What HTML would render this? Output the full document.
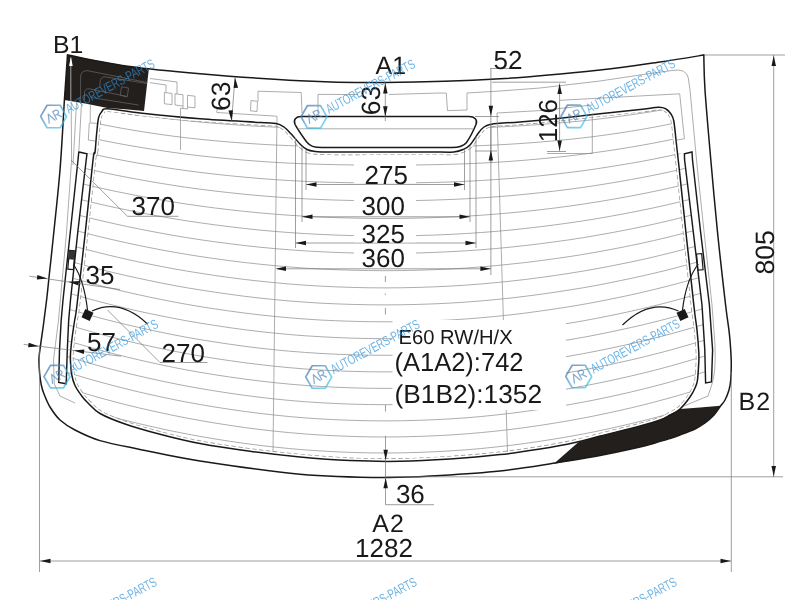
<!DOCTYPE html>
<html><head><meta charset="utf-8"><title>E60 RW/H/X</title>
<style>html,body{margin:0;padding:0;background:#fff;overflow:hidden}svg{display:block}text{font-family:"Liberation Sans",sans-serif;fill:#1b1918}</style>
</head><body>
<svg width="800" height="600" viewBox="0 0 800 600" style="opacity:0.999;will-change:transform" text-rendering="geometricPrecision">
<rect width="800" height="600" fill="#fff"/>
<defs><linearGradient id="hg" gradientUnits="userSpaceOnUse" x1="-3.7" y1="-12.5" x2="3.7" y2="12.5"><stop offset="0" stop-color="#3f6ea6"/><stop offset="0.55" stop-color="#3fa8dc"/><stop offset="1" stop-color="#35c0ec"/></linearGradient><clipPath id="ic"><path d="M95.0 152.5C95.6 148.3 95.9 140.8 96.5 135.0C97.1 129.2 97.7 121.8 98.5 118.0C99.3 114.2 100.0 113.5 101.5 112.0C103.0 110.5 101.1 108.6 107.5 108.8C113.9 108.9 124.6 111.3 140.0 113.0C155.4 114.7 180.0 117.2 200.0 118.8C220.0 120.3 247.3 121.7 260.0 122.5C272.7 123.3 272.0 122.8 276.0 123.5C280.0 124.2 281.5 125.3 284.0 127.0C286.5 128.7 288.2 130.8 291.0 133.8C293.8 136.8 298.3 142.4 301.0 145.0C303.7 147.6 304.8 148.4 307.0 149.5C309.2 150.6 310.2 150.9 314.0 151.3C317.8 151.7 318.2 151.9 330.0 152.0C341.8 152.1 366.7 152.0 385.0 152.0C403.3 152.0 428.5 152.0 440.0 152.0C451.5 152.0 449.9 152.4 453.8 152.0C457.6 151.6 460.3 150.7 463.0 149.5C465.7 148.3 467.4 147.8 470.0 145.0C472.6 142.2 476.4 135.5 478.8 132.5C481.1 129.5 482.1 128.3 484.0 127.0C485.9 125.7 487.3 125.0 490.0 124.4C492.7 123.8 495.0 123.6 500.0 123.2C505.0 122.8 510.0 122.7 520.0 121.9C530.0 121.1 546.7 119.6 560.0 118.2C573.3 116.8 586.7 115.2 600.0 113.8C613.3 112.3 630.2 110.6 640.0 109.5C649.8 108.4 654.4 107.3 658.8 107.2C663.1 107.1 664.0 107.9 666.0 109.0C668.0 110.1 669.7 112.0 671.0 114.0C672.3 116.0 672.9 116.7 673.8 121.0C674.6 125.3 675.2 132.7 676.0 140.0C676.8 147.3 677.0 149.2 678.8 165.0C680.5 180.8 683.8 211.7 686.2 235.0C688.8 258.3 692.0 289.2 693.8 305.0C695.5 320.8 696.2 322.1 697.0 330.0C697.8 337.9 698.5 347.2 698.8 352.5C699.0 357.8 699.0 357.4 698.8 362.0C698.5 366.6 698.1 375.7 697.5 380.0C696.9 384.3 696.2 385.2 695.0 388.0C693.8 390.8 692.5 393.5 690.0 397.0C687.5 400.5 683.3 406.0 680.0 409.0C676.7 412.0 673.3 413.2 670.0 415.0C666.7 416.8 665.0 418.2 660.0 420.0C655.0 421.8 650.0 423.3 640.0 426.0C630.0 428.7 610.8 433.2 600.0 436.0C589.2 438.8 585.0 440.3 575.0 442.5C565.0 444.7 552.5 447.0 540.0 449.0C527.5 451.0 515.0 452.9 500.0 454.6C485.0 456.3 466.7 457.9 450.0 459.0C433.3 460.1 416.7 461.0 400.0 461.3C383.3 461.6 366.7 461.3 350.0 460.6C333.3 459.9 316.7 458.6 300.0 457.0C283.3 455.4 266.7 453.5 250.0 451.3C233.3 449.1 215.0 446.4 200.0 443.6C185.0 440.8 172.5 437.6 160.0 434.3C147.5 431.0 135.0 427.5 125.0 424.0C115.0 420.5 106.2 417.0 100.0 413.5C93.8 410.0 90.9 405.8 88.0 403.0C85.1 400.2 84.7 399.9 82.5 397.0C80.3 394.1 76.8 389.2 75.0 385.5C73.2 381.8 72.5 378.9 71.8 375.0C71.0 371.1 70.7 365.8 70.5 362.0C70.3 358.2 70.3 356.2 70.6 352.0C70.9 347.8 71.5 342.3 72.2 337.0C72.9 331.7 73.9 325.3 74.7 320.0C75.5 314.7 75.3 319.2 77.0 305.0C78.7 290.8 82.3 259.2 85.0 235.0C87.7 210.8 91.3 173.8 93.0 160.0C94.7 146.2 94.4 156.7 95.0 152.5Z"/></clipPath><clipPath id="hc"><path d="M95.0 152.5C95.6 148.3 95.9 140.8 96.5 135.0C97.1 129.2 97.7 121.8 98.5 118.0C99.3 114.2 100.0 113.5 101.5 112.0C103.0 110.5 101.1 108.6 107.5 108.8C113.9 108.9 124.6 111.3 140.0 113.0C155.4 114.7 180.0 117.2 200.0 118.8C220.0 120.3 247.3 121.7 260.0 122.5C272.7 123.3 272.0 122.8 276.0 123.5C280.0 124.2 281.5 125.3 284.0 127.0C286.5 128.7 288.2 130.8 291.0 133.8C293.8 136.8 298.3 142.4 301.0 145.0C303.7 147.6 304.8 148.4 307.0 149.5C309.2 150.6 310.2 150.9 314.0 151.3C317.8 151.7 318.2 151.9 330.0 152.0C341.8 152.1 366.7 152.0 385.0 152.0C403.3 152.0 428.5 152.0 440.0 152.0C451.5 152.0 449.9 152.4 453.8 152.0C457.6 151.6 460.3 150.7 463.0 149.5C465.7 148.3 467.4 147.8 470.0 145.0C472.6 142.2 476.4 135.5 478.8 132.5C481.1 129.5 482.1 128.3 484.0 127.0C485.9 125.7 487.3 125.0 490.0 124.4C492.7 123.8 495.0 123.6 500.0 123.2C505.0 122.8 510.0 122.7 520.0 121.9C530.0 121.1 546.7 119.6 560.0 118.2C573.3 116.8 586.7 115.2 600.0 113.8C613.3 112.3 630.2 110.6 640.0 109.5C649.8 108.4 654.4 107.3 658.8 107.2C663.1 107.1 664.0 107.9 666.0 109.0C668.0 110.1 669.7 112.0 671.0 114.0C672.3 116.0 672.9 116.7 673.8 121.0C674.6 125.3 675.2 132.7 676.0 140.0C676.8 147.3 677.0 149.2 678.8 165.0C680.5 180.8 683.8 211.7 686.2 235.0C688.8 258.3 692.0 289.2 693.8 305.0C695.5 320.8 696.2 322.1 697.0 330.0C697.8 337.9 698.5 347.2 698.8 352.5C699.0 357.8 699.0 357.4 698.8 362.0C698.5 366.6 698.1 375.7 697.5 380.0C696.9 384.3 696.2 385.2 695.0 388.0C693.8 390.8 692.5 393.5 690.0 397.0C687.5 400.5 683.3 406.0 680.0 409.0C676.7 412.0 673.3 413.2 670.0 415.0C666.7 416.8 665.0 418.2 660.0 420.0C655.0 421.8 650.0 423.3 640.0 426.0C630.0 428.7 610.8 433.2 600.0 436.0C589.2 438.8 585.0 440.3 575.0 442.5C565.0 444.7 552.5 447.0 540.0 449.0C527.5 451.0 515.0 452.9 500.0 454.6C485.0 456.3 466.7 457.9 450.0 459.0C433.3 460.1 416.7 461.0 400.0 461.3C383.3 461.6 366.7 461.3 350.0 460.6C333.3 459.9 316.7 458.6 300.0 457.0C283.3 455.4 266.7 453.5 250.0 451.3C233.3 449.1 215.0 446.4 200.0 443.6C185.0 440.8 172.5 437.6 160.0 434.3C147.5 431.0 135.0 427.5 125.0 424.0C115.0 420.5 106.2 417.0 100.0 413.5C93.8 410.0 90.9 405.8 88.0 403.0C85.1 400.2 84.7 399.9 82.5 397.0C80.3 394.1 76.8 389.2 75.0 385.5C73.2 381.8 72.5 378.9 71.8 375.0C71.0 371.1 70.7 365.8 70.5 362.0C70.3 358.2 70.3 356.2 70.6 352.0C70.9 347.8 71.5 342.3 72.2 337.0C72.9 331.7 73.9 325.3 74.7 320.0C75.5 314.7 75.3 319.2 77.0 305.0C78.7 290.8 82.3 259.2 85.0 235.0C87.7 210.8 91.3 173.8 93.0 160.0C94.7 146.2 94.4 156.7 95.0 152.5Z"/><path d="M87.0 153.8L86.2 160.0L77.8 232.0L70.5 300.0L68.7 320.0L67.3 350.0L66.2 383.8L110.0 384.0L110.0 153.0Z"/><path d="M684.4 153.8L684.6 160.0L693.3 232.0L702.0 305.0L704.8 350.0L705.6 383.0L660.0 383.0L660.0 153.0Z"/></clipPath></defs>
<g clip-path="url(#hc)" stroke="#8a8a8a" stroke-width="0.7" fill="none">
<path d="M60.0 100.5C67.5 102.0 90.0 106.8 105.0 109.4C120.0 112.0 134.2 114.2 150.0 116.3C165.8 118.5 181.7 120.4 200.0 122.0C218.3 123.7 240.0 125.3 260.0 126.4C280.0 127.5 299.2 128.1 320.0 128.5C340.8 128.9 363.3 129.0 385.0 129.0C406.7 129.0 429.2 128.9 450.0 128.5C470.8 128.1 490.0 127.5 510.0 126.4C530.0 125.3 551.7 123.7 570.0 122.0C588.3 120.4 604.2 118.5 620.0 116.3C635.8 114.2 649.7 112.1 665.0 109.4C680.3 106.7 704.2 101.6 712.0 100.1"/>
<path d="M60.0 115.1C67.5 116.8 90.0 122.1 105.0 125.1C120.0 128.0 134.2 130.5 150.0 132.9C165.8 135.3 181.7 137.4 200.0 139.3C218.3 141.2 240.0 143.0 260.0 144.2C280.0 145.4 299.2 146.1 320.0 146.6C340.8 147.0 363.3 147.1 385.0 147.1C406.7 147.1 429.2 147.0 450.0 146.6C470.8 146.1 490.0 145.4 510.0 144.2C530.0 143.0 551.7 141.2 570.0 139.3C588.3 137.4 604.2 135.3 620.0 132.9C635.8 130.5 649.7 128.1 665.0 125.1C680.3 122.0 704.2 116.4 712.0 114.6"/>
<path d="M60.0 130.9C67.5 132.6 90.0 137.9 105.0 140.9C120.0 143.9 134.2 146.4 150.0 148.9C165.8 151.4 181.7 153.7 200.0 155.8C218.3 157.9 240.0 159.9 260.0 161.4C280.0 162.8 299.2 163.7 320.0 164.3C340.8 164.9 363.3 165.1 385.0 165.1C406.7 165.1 429.2 164.9 450.0 164.3C470.8 163.7 490.0 162.8 510.0 161.4C530.0 159.9 551.7 157.9 570.0 155.8C588.3 153.7 604.2 151.4 620.0 148.9C635.8 146.4 649.7 143.9 665.0 140.9C680.3 137.8 704.2 132.2 712.0 130.4"/>
<path d="M60.0 146.7C67.5 148.4 90.0 153.7 105.0 156.8C120.0 159.9 134.2 162.5 150.0 165.1C165.8 167.7 181.7 170.2 200.0 172.4C218.3 174.7 240.0 176.9 260.0 178.5C280.0 180.1 299.2 181.2 320.0 182.0C340.8 182.7 363.3 183.0 385.0 183.0C406.7 183.0 429.2 182.7 450.0 182.0C470.8 181.2 490.0 180.1 510.0 178.5C530.0 176.9 551.7 174.7 570.0 172.4C588.3 170.2 604.2 167.7 620.0 165.1C635.8 162.5 649.7 160.0 665.0 156.8C680.3 153.7 704.2 148.0 712.0 146.2"/>
<path d="M60.0 162.6C67.5 164.3 90.0 169.7 105.0 172.9C120.0 176.0 134.2 178.8 150.0 181.5C165.8 184.2 181.7 186.8 200.0 189.2C218.3 191.5 240.0 194.0 260.0 195.7C280.0 197.4 299.2 198.7 320.0 199.5C340.8 200.4 363.3 200.8 385.0 200.8C406.7 200.8 429.2 200.4 450.0 199.5C470.8 198.7 490.0 197.4 510.0 195.7C530.0 194.0 551.7 191.5 570.0 189.2C588.3 186.8 604.2 184.2 620.0 181.5C635.8 178.8 649.7 176.1 665.0 172.9C680.3 169.6 704.2 163.9 712.0 162.1"/>
<path d="M60.0 178.5C67.5 180.2 90.0 185.8 105.0 189.1C120.0 192.3 134.2 195.2 150.0 198.0C165.8 200.8 181.7 203.5 200.0 206.0C218.3 208.5 240.0 211.1 260.0 212.9C280.0 214.7 299.2 216.1 320.0 217.0C340.8 217.9 363.3 218.5 385.0 218.5C406.7 218.5 429.2 217.9 450.0 217.0C470.8 216.1 490.0 214.7 510.0 212.9C530.0 211.1 551.7 208.5 570.0 206.0C588.3 203.5 604.2 200.8 620.0 198.0C635.8 195.2 649.7 192.4 665.0 189.1C680.3 185.7 704.2 179.8 712.0 178.0"/>
<path d="M60.0 194.4C67.5 196.2 90.0 202.0 105.0 205.3C120.0 208.7 134.2 211.6 150.0 214.5C165.8 217.5 181.7 220.2 200.0 222.8C218.3 225.4 240.0 228.1 260.0 230.1C280.0 232.0 299.2 233.4 320.0 234.4C340.8 235.4 363.3 236.0 385.0 236.0C406.7 236.0 429.2 235.4 450.0 234.4C470.8 233.4 490.0 232.0 510.0 230.1C530.0 228.1 551.7 225.4 570.0 222.8C588.3 220.2 604.2 217.5 620.0 214.5C635.8 211.6 649.7 208.8 665.0 205.3C680.3 201.9 704.2 195.8 712.0 193.9"/>
<path d="M60.0 210.4C67.5 212.3 90.0 218.2 105.0 221.6C120.0 225.1 134.2 228.1 150.0 231.1C165.8 234.1 181.7 237.0 200.0 239.7C218.3 242.3 240.0 245.2 260.0 247.2C280.0 249.2 299.2 250.7 320.0 251.7C340.8 252.8 363.3 253.4 385.0 253.4C406.7 253.4 429.2 252.8 450.0 251.7C470.8 250.7 490.0 249.2 510.0 247.2C530.0 245.2 551.7 242.3 570.0 239.7C588.3 237.0 604.2 234.1 620.0 231.1C635.8 228.1 649.7 225.2 665.0 221.6C680.3 218.1 704.2 211.8 712.0 209.9"/>
<path d="M60.0 226.5C67.5 228.4 90.0 234.4 105.0 237.9C120.0 241.5 134.2 244.6 150.0 247.7C165.8 250.8 181.7 253.7 200.0 256.5C218.3 259.2 240.0 262.2 260.0 264.2C280.0 266.3 299.2 267.9 320.0 269.0C340.8 270.0 363.3 270.7 385.0 270.7C406.7 270.7 429.2 270.0 450.0 269.0C470.8 267.9 490.0 266.3 510.0 264.2C530.0 262.2 551.7 259.2 570.0 256.5C588.3 253.7 604.2 250.8 620.0 247.7C635.8 244.6 649.7 241.6 665.0 237.9C680.3 234.3 704.2 227.9 712.0 225.9"/>
<path d="M60.0 242.5C67.5 244.5 90.0 250.6 105.0 254.2C120.0 257.9 134.2 261.1 150.0 264.2C165.8 267.4 181.7 270.4 200.0 273.2C218.3 276.1 240.0 279.1 260.0 281.2C280.0 283.3 299.2 285.0 320.0 286.1C340.8 287.2 363.3 287.9 385.0 287.9C406.7 287.9 429.2 287.2 450.0 286.1C470.8 285.0 490.0 283.3 510.0 281.2C530.0 279.1 551.7 276.1 570.0 273.2C588.3 270.4 604.2 267.4 620.0 264.2C635.8 261.1 649.7 258.0 665.0 254.2C680.3 250.5 704.2 244.0 712.0 242.0"/>
<path d="M60.0 258.6C67.5 260.6 90.0 266.9 105.0 270.6C120.0 274.2 134.2 277.5 150.0 280.7C165.8 284.0 181.7 287.1 200.0 289.9C218.3 292.8 240.0 295.9 260.0 298.1C280.0 300.3 299.2 301.9 320.0 303.1C340.8 304.2 363.3 304.9 385.0 304.9C406.7 304.9 429.2 304.2 450.0 303.1C470.8 301.9 490.0 300.3 510.0 298.1C530.0 295.9 551.7 292.8 570.0 289.9C588.3 287.1 604.2 284.0 620.0 280.7C635.8 277.5 649.7 274.3 665.0 270.6C680.3 266.8 704.2 260.1 712.0 258.0"/>
<path d="M60.0 274.7C67.5 276.7 90.0 283.1 105.0 286.8C120.0 290.6 134.2 293.9 150.0 297.2C165.8 300.5 181.7 303.6 200.0 306.6C218.3 309.5 240.0 312.7 260.0 314.9C280.0 317.1 299.2 318.8 320.0 320.0C340.8 321.1 363.3 321.8 385.0 321.8C406.7 321.8 429.2 321.1 450.0 320.0C470.8 318.8 490.0 317.1 510.0 314.9C530.0 312.7 551.7 309.5 570.0 306.6C588.3 303.6 604.2 300.5 620.0 297.2C635.8 293.9 649.7 290.7 665.0 286.8C680.3 283.0 704.2 276.2 712.0 274.1"/>
<path d="M60.0 290.7C67.5 292.8 90.0 299.3 105.0 303.1C120.0 306.9 134.2 310.3 150.0 313.6C165.8 316.9 181.7 320.1 200.0 323.1C218.3 326.1 240.0 329.3 260.0 331.6C280.0 333.8 299.2 335.6 320.0 336.7C340.8 337.9 363.3 338.7 385.0 338.7C406.7 338.7 429.2 337.9 450.0 336.7C470.8 335.6 490.0 333.8 510.0 331.6C530.0 329.3 551.7 326.1 570.0 323.1C588.3 320.1 604.2 316.9 620.0 313.6C635.8 310.3 649.7 307.0 665.0 303.1C680.3 299.2 704.2 292.3 712.0 290.1"/>
<path d="M60.0 306.7C67.5 308.8 90.0 315.4 105.0 319.3C120.0 323.1 134.2 326.6 150.0 329.9C165.8 333.3 181.7 336.6 200.0 339.6C218.3 342.6 240.0 345.9 260.0 348.2C280.0 350.5 299.2 352.2 320.0 353.4C340.8 354.6 363.3 355.3 385.0 355.3C406.7 355.3 429.2 354.6 450.0 353.4C470.8 352.2 490.0 350.5 510.0 348.2C530.0 345.9 551.7 342.6 570.0 339.6C588.3 336.6 604.2 333.3 620.0 329.9C635.8 326.6 649.7 323.2 665.0 319.3C680.3 315.3 704.2 308.3 712.0 306.1"/>
<path d="M60.0 322.7C67.5 324.8 90.0 331.5 105.0 335.4C120.0 339.3 134.2 342.8 150.0 346.2C165.8 349.6 181.7 352.9 200.0 356.0C218.3 359.1 240.0 362.3 260.0 364.6C280.0 367.0 299.2 368.7 320.0 370.0C340.8 371.2 363.3 371.9 385.0 371.9C406.7 371.9 429.2 371.2 450.0 370.0C470.8 368.7 490.0 367.0 510.0 364.6C530.0 362.3 551.7 359.1 570.0 356.0C588.3 352.9 604.2 349.6 620.0 346.2C635.8 342.8 649.7 339.4 665.0 335.4C680.3 331.4 704.2 324.3 712.0 322.1"/>
<path d="M60.0 338.7C67.5 340.8 90.0 347.5 105.0 351.5C120.0 355.4 134.2 358.9 150.0 362.4C165.8 365.9 181.7 369.2 200.0 372.3C218.3 375.4 240.0 378.7 260.0 381.0C280.0 383.4 299.2 385.2 320.0 386.4C340.8 387.6 363.3 388.4 385.0 388.4C406.7 388.4 429.2 387.6 450.0 386.4C470.8 385.2 490.0 383.4 510.0 381.0C530.0 378.7 551.7 375.4 570.0 372.3C588.3 369.2 604.2 365.9 620.0 362.4C635.8 358.9 649.7 355.5 665.0 351.5C680.3 347.4 704.2 340.3 712.0 338.0"/>
<path d="M60.0 354.5C67.5 356.7 90.0 363.5 105.0 367.5C120.0 371.5 134.2 375.0 150.0 378.5C165.8 382.0 181.7 385.3 200.0 388.5C218.3 391.6 240.0 394.9 260.0 397.3C280.0 399.7 299.2 401.5 320.0 402.7C340.8 403.9 363.3 404.7 385.0 404.7C406.7 404.7 429.2 403.9 450.0 402.7C470.8 401.5 490.0 399.7 510.0 397.3C530.0 394.9 551.7 391.6 570.0 388.5C588.3 385.3 604.2 382.0 620.0 378.5C635.8 375.0 649.7 371.6 665.0 367.5C680.3 363.4 704.2 356.2 712.0 353.9"/>
<path d="M60.0 370.4C67.5 372.5 90.0 379.4 105.0 383.4C120.0 387.4 134.2 391.0 150.0 394.5C165.8 398.0 181.7 401.4 200.0 404.5C218.3 407.7 240.0 411.0 260.0 413.4C280.0 415.8 299.2 417.7 320.0 418.9C340.8 420.1 363.3 420.9 385.0 420.9C406.7 420.9 429.2 420.1 450.0 418.9C470.8 417.7 490.0 415.8 510.0 413.4C530.0 411.0 551.7 407.7 570.0 404.5C588.3 401.4 604.2 398.0 620.0 394.5C635.8 391.0 649.7 387.5 665.0 383.4C680.3 379.3 704.2 372.0 712.0 369.7"/>
<path d="M60.0 386.1C67.5 388.3 90.0 395.2 105.0 399.2C120.0 403.3 134.2 406.9 150.0 410.4C165.8 413.9 181.7 417.3 200.0 420.5C218.3 423.7 240.0 427.1 260.0 429.5C280.0 431.9 299.2 433.7 320.0 435.0C340.8 436.2 363.3 437.0 385.0 437.0C406.7 437.0 429.2 436.2 450.0 435.0C470.8 433.7 490.0 431.9 510.0 429.5C530.0 427.1 551.7 423.7 570.0 420.5C588.3 417.3 604.2 413.9 620.0 410.4C635.8 406.9 649.7 403.4 665.0 399.2C680.3 395.1 704.2 387.8 712.0 385.5"/>
<path d="M60.0 401.8C67.5 404.0 90.0 410.9 105.0 415.0C120.0 419.1 134.2 422.6 150.0 426.2C165.8 429.8 181.7 433.2 200.0 436.4C218.3 439.6 240.0 443.0 260.0 445.4C280.0 447.8 299.2 449.7 320.0 450.9C340.8 452.2 363.3 453.0 385.0 453.0C406.7 453.0 429.2 452.2 450.0 450.9C470.8 449.7 490.0 447.8 510.0 445.4C530.0 443.0 551.7 439.6 570.0 436.4C588.3 433.2 604.2 429.8 620.0 426.2C635.8 422.6 649.7 419.2 665.0 415.0C680.3 410.8 704.2 403.5 712.0 401.2"/>
</g>
<g clip-path="url(#ic)"><path d="M95.0 152.5C95.6 148.3 95.9 140.8 96.5 135.0C97.1 129.2 97.7 121.8 98.5 118.0C99.3 114.2 100.0 113.5 101.5 112.0C103.0 110.5 101.1 108.6 107.5 108.8C113.9 108.9 124.6 111.3 140.0 113.0C155.4 114.7 180.0 117.2 200.0 118.8C220.0 120.3 247.3 121.7 260.0 122.5C272.7 123.3 272.0 122.8 276.0 123.5C280.0 124.2 281.5 125.3 284.0 127.0C286.5 128.7 288.2 130.8 291.0 133.8C293.8 136.8 298.3 142.4 301.0 145.0C303.7 147.6 304.8 148.4 307.0 149.5C309.2 150.6 310.2 150.9 314.0 151.3C317.8 151.7 318.2 151.9 330.0 152.0C341.8 152.1 366.7 152.0 385.0 152.0C403.3 152.0 428.5 152.0 440.0 152.0C451.5 152.0 449.9 152.4 453.8 152.0C457.6 151.6 460.3 150.7 463.0 149.5C465.7 148.3 467.4 147.8 470.0 145.0C472.6 142.2 476.4 135.5 478.8 132.5C481.1 129.5 482.1 128.3 484.0 127.0C485.9 125.7 487.3 125.0 490.0 124.4C492.7 123.8 495.0 123.6 500.0 123.2C505.0 122.8 510.0 122.7 520.0 121.9C530.0 121.1 546.7 119.6 560.0 118.2C573.3 116.8 586.7 115.2 600.0 113.8C613.3 112.3 630.2 110.6 640.0 109.5C649.8 108.4 654.4 107.3 658.8 107.2C663.1 107.1 664.0 107.9 666.0 109.0C668.0 110.1 669.7 112.0 671.0 114.0C672.3 116.0 672.9 116.7 673.8 121.0C674.6 125.3 675.2 132.7 676.0 140.0C676.8 147.3 677.0 149.2 678.8 165.0C680.5 180.8 683.8 211.7 686.2 235.0C688.8 258.3 692.0 289.2 693.8 305.0C695.5 320.8 696.2 322.1 697.0 330.0C697.8 337.9 698.5 347.2 698.8 352.5C699.0 357.8 699.0 357.4 698.8 362.0C698.5 366.6 698.1 375.7 697.5 380.0C696.9 384.3 696.2 385.2 695.0 388.0C693.8 390.8 692.5 393.5 690.0 397.0C687.5 400.5 683.3 406.0 680.0 409.0C676.7 412.0 673.3 413.2 670.0 415.0C666.7 416.8 665.0 418.2 660.0 420.0C655.0 421.8 650.0 423.3 640.0 426.0C630.0 428.7 610.8 433.2 600.0 436.0C589.2 438.8 585.0 440.3 575.0 442.5C565.0 444.7 552.5 447.0 540.0 449.0C527.5 451.0 515.0 452.9 500.0 454.6C485.0 456.3 466.7 457.9 450.0 459.0C433.3 460.1 416.7 461.0 400.0 461.3C383.3 461.6 366.7 461.3 350.0 460.6C333.3 459.9 316.7 458.6 300.0 457.0C283.3 455.4 266.7 453.5 250.0 451.3C233.3 449.1 215.0 446.4 200.0 443.6C185.0 440.8 172.5 437.6 160.0 434.3C147.5 431.0 135.0 427.5 125.0 424.0C115.0 420.5 106.2 417.0 100.0 413.5C93.8 410.0 90.9 405.8 88.0 403.0C85.1 400.2 84.7 399.9 82.5 397.0C80.3 394.1 76.8 389.2 75.0 385.5C73.2 381.8 72.5 378.9 71.8 375.0C71.0 371.1 70.7 365.8 70.5 362.0C70.3 358.2 70.3 356.2 70.6 352.0C70.9 347.8 71.5 342.3 72.2 337.0C72.9 331.7 73.9 325.3 74.7 320.0C75.5 314.7 75.3 319.2 77.0 305.0C78.7 290.8 82.3 259.2 85.0 235.0C87.7 210.8 91.3 173.8 93.0 160.0C94.7 146.2 94.4 156.7 95.0 152.5Z" stroke="#8f8f8f" stroke-width="6.2" fill="none" stroke-dasharray="4.5 2.5"/><path d="M95.0 152.5C95.6 148.3 95.9 140.8 96.5 135.0C97.1 129.2 97.7 121.8 98.5 118.0C99.3 114.2 100.0 113.5 101.5 112.0C103.0 110.5 101.1 108.6 107.5 108.8C113.9 108.9 124.6 111.3 140.0 113.0C155.4 114.7 180.0 117.2 200.0 118.8C220.0 120.3 247.3 121.7 260.0 122.5C272.7 123.3 272.0 122.8 276.0 123.5C280.0 124.2 281.5 125.3 284.0 127.0C286.5 128.7 288.2 130.8 291.0 133.8C293.8 136.8 298.3 142.4 301.0 145.0C303.7 147.6 304.8 148.4 307.0 149.5C309.2 150.6 310.2 150.9 314.0 151.3C317.8 151.7 318.2 151.9 330.0 152.0C341.8 152.1 366.7 152.0 385.0 152.0C403.3 152.0 428.5 152.0 440.0 152.0C451.5 152.0 449.9 152.4 453.8 152.0C457.6 151.6 460.3 150.7 463.0 149.5C465.7 148.3 467.4 147.8 470.0 145.0C472.6 142.2 476.4 135.5 478.8 132.5C481.1 129.5 482.1 128.3 484.0 127.0C485.9 125.7 487.3 125.0 490.0 124.4C492.7 123.8 495.0 123.6 500.0 123.2C505.0 122.8 510.0 122.7 520.0 121.9C530.0 121.1 546.7 119.6 560.0 118.2C573.3 116.8 586.7 115.2 600.0 113.8C613.3 112.3 630.2 110.6 640.0 109.5C649.8 108.4 654.4 107.3 658.8 107.2C663.1 107.1 664.0 107.9 666.0 109.0C668.0 110.1 669.7 112.0 671.0 114.0C672.3 116.0 672.9 116.7 673.8 121.0C674.6 125.3 675.2 132.7 676.0 140.0C676.8 147.3 677.0 149.2 678.8 165.0C680.5 180.8 683.8 211.7 686.2 235.0C688.8 258.3 692.0 289.2 693.8 305.0C695.5 320.8 696.2 322.1 697.0 330.0C697.8 337.9 698.5 347.2 698.8 352.5C699.0 357.8 699.0 357.4 698.8 362.0C698.5 366.6 698.1 375.7 697.5 380.0C696.9 384.3 696.2 385.2 695.0 388.0C693.8 390.8 692.5 393.5 690.0 397.0C687.5 400.5 683.3 406.0 680.0 409.0C676.7 412.0 673.3 413.2 670.0 415.0C666.7 416.8 665.0 418.2 660.0 420.0C655.0 421.8 650.0 423.3 640.0 426.0C630.0 428.7 610.8 433.2 600.0 436.0C589.2 438.8 585.0 440.3 575.0 442.5C565.0 444.7 552.5 447.0 540.0 449.0C527.5 451.0 515.0 452.9 500.0 454.6C485.0 456.3 466.7 457.9 450.0 459.0C433.3 460.1 416.7 461.0 400.0 461.3C383.3 461.6 366.7 461.3 350.0 460.6C333.3 459.9 316.7 458.6 300.0 457.0C283.3 455.4 266.7 453.5 250.0 451.3C233.3 449.1 215.0 446.4 200.0 443.6C185.0 440.8 172.5 437.6 160.0 434.3C147.5 431.0 135.0 427.5 125.0 424.0C115.0 420.5 106.2 417.0 100.0 413.5C93.8 410.0 90.9 405.8 88.0 403.0C85.1 400.2 84.7 399.9 82.5 397.0C80.3 394.1 76.8 389.2 75.0 385.5C73.2 381.8 72.5 378.9 71.8 375.0C71.0 371.1 70.7 365.8 70.5 362.0C70.3 358.2 70.3 356.2 70.6 352.0C70.9 347.8 71.5 342.3 72.2 337.0C72.9 331.7 73.9 325.3 74.7 320.0C75.5 314.7 75.3 319.2 77.0 305.0C78.7 290.8 82.3 259.2 85.0 235.0C87.7 210.8 91.3 173.8 93.0 160.0C94.7 146.2 94.4 156.7 95.0 152.5Z" stroke="#fff" stroke-width="4.8" fill="none"/></g>
<g stroke="#8a8a8a" stroke-width="0.7" fill="none">
<path d="M277.0 116.5L273.0 452.0"/>
</g>
<path d="M67.5 55.0L100.0 61.3L130.0 66.5L148.8 69.2L144.0 111.0L125.0 109.3L107.5 108.0L85.0 103.5L64.4 100.0Z" fill="#231f1d"/>
<path d="M553.8 463.8L578.0 442.5L600.0 436.0L640.0 426.0L660.0 420.0L670.0 415.0L680.0 409.0L700.0 407.4L720.5 405.8L714.0 415.0L705.0 423.0L695.0 429.0L680.0 435.0L670.0 438.5L655.0 443.0L640.0 447.0L600.0 455.5Z" fill="#231f1d"/>
<path d="M67.5 55.0C77.9 56.9 107.9 63.4 130.0 66.5C152.1 69.6 171.7 71.3 200.0 73.7C228.3 76.1 269.2 79.2 300.0 80.7C330.8 82.2 351.7 82.8 385.0 82.5C418.3 82.2 464.2 80.9 500.0 78.8C535.8 76.7 573.3 72.8 600.0 70.0C626.7 67.2 642.7 64.5 660.0 62.0C677.3 59.5 696.5 56.2 703.8 55.0" stroke="#1b1918" stroke-width="1.5" fill="none" stroke-linejoin="round" stroke-linecap="round"/>
<path d="M703.8 55.0C704.0 60.8 703.8 72.2 705.0 90.0C706.2 107.8 708.9 138.3 711.0 162.0C713.1 185.7 715.1 208.2 717.5 232.0C719.9 255.8 723.6 287.8 725.6 305.0C727.6 322.2 728.6 325.8 729.5 335.0C730.4 344.2 731.0 352.5 731.2 360.0C731.4 367.5 731.1 375.0 730.7 380.0C730.3 385.0 730.0 386.7 729.0 390.0C728.0 393.3 726.4 397.3 725.0 400.0C723.6 402.7 722.3 403.5 720.5 406.0C718.7 408.5 716.6 412.2 714.0 415.0C711.4 417.8 708.2 420.7 705.0 423.0C701.8 425.3 699.2 427.0 695.0 429.0C690.8 431.0 684.2 433.4 680.0 435.0C675.8 436.6 674.2 437.2 670.0 438.5C665.8 439.8 660.0 441.6 655.0 443.0C650.0 444.4 649.2 444.9 640.0 447.0C630.8 449.1 614.2 452.8 600.0 455.5C585.8 458.2 571.7 460.4 555.0 463.0C538.3 465.6 519.2 468.9 500.0 471.0C480.8 473.1 459.2 474.4 440.0 475.5C420.8 476.6 408.3 477.7 385.0 477.5C361.7 477.3 330.8 476.9 300.0 474.2C269.2 471.4 226.7 465.1 200.0 461.0C173.3 456.9 156.7 452.8 140.0 449.4C123.3 446.0 110.8 443.8 100.0 440.6C89.2 437.4 81.7 433.4 75.0 430.0C68.3 426.6 64.2 423.8 60.0 420.0C55.8 416.2 52.7 411.3 50.0 407.0C47.3 402.7 45.5 397.7 44.0 394.0C42.5 390.3 42.0 388.5 41.3 385.0C40.6 381.5 40.0 377.5 39.6 373.0C39.2 368.5 38.8 362.7 39.0 358.0C39.2 353.3 39.9 350.5 40.6 345.0C41.3 339.5 42.4 332.5 43.4 325.0C44.4 317.5 45.5 309.2 46.6 300.0C47.7 290.8 48.7 280.0 49.8 270.0C50.9 260.0 51.3 256.7 53.0 240.0C54.7 223.3 58.1 193.3 60.0 170.0C61.9 146.7 63.2 119.2 64.4 100.0C65.7 80.8 67.0 62.5 67.5 55.0" stroke="#1b1918" stroke-width="1.5" fill="none" stroke-linejoin="round" stroke-linecap="round"/>
<path d="M95.0 152.5C95.6 148.3 95.9 140.8 96.5 135.0C97.1 129.2 97.7 121.8 98.5 118.0C99.3 114.2 100.0 113.5 101.5 112.0C103.0 110.5 101.1 108.6 107.5 108.8C113.9 108.9 124.6 111.3 140.0 113.0C155.4 114.7 180.0 117.2 200.0 118.8C220.0 120.3 247.3 121.7 260.0 122.5C272.7 123.3 272.0 122.8 276.0 123.5C280.0 124.2 281.5 125.3 284.0 127.0C286.5 128.7 288.2 130.8 291.0 133.8C293.8 136.8 298.3 142.4 301.0 145.0C303.7 147.6 304.8 148.4 307.0 149.5C309.2 150.6 310.2 150.9 314.0 151.3C317.8 151.7 318.2 151.9 330.0 152.0C341.8 152.1 366.7 152.0 385.0 152.0C403.3 152.0 428.5 152.0 440.0 152.0C451.5 152.0 449.9 152.4 453.8 152.0C457.6 151.6 460.3 150.7 463.0 149.5C465.7 148.3 467.4 147.8 470.0 145.0C472.6 142.2 476.4 135.5 478.8 132.5C481.1 129.5 482.1 128.3 484.0 127.0C485.9 125.7 487.3 125.0 490.0 124.4C492.7 123.8 495.0 123.6 500.0 123.2C505.0 122.8 510.0 122.7 520.0 121.9C530.0 121.1 546.7 119.6 560.0 118.2C573.3 116.8 586.7 115.2 600.0 113.8C613.3 112.3 630.2 110.6 640.0 109.5C649.8 108.4 654.4 107.3 658.8 107.2C663.1 107.1 664.0 107.9 666.0 109.0C668.0 110.1 669.7 112.0 671.0 114.0C672.3 116.0 672.9 116.7 673.8 121.0C674.6 125.3 675.2 132.7 676.0 140.0C676.8 147.3 677.0 149.2 678.8 165.0C680.5 180.8 683.8 211.7 686.2 235.0C688.8 258.3 692.0 289.2 693.8 305.0C695.5 320.8 696.2 322.1 697.0 330.0C697.8 337.9 698.5 347.2 698.8 352.5C699.0 357.8 699.0 357.4 698.8 362.0C698.5 366.6 698.1 375.7 697.5 380.0C696.9 384.3 696.2 385.2 695.0 388.0C693.8 390.8 692.5 393.5 690.0 397.0C687.5 400.5 683.3 406.0 680.0 409.0C676.7 412.0 673.3 413.2 670.0 415.0C666.7 416.8 665.0 418.2 660.0 420.0C655.0 421.8 650.0 423.3 640.0 426.0C630.0 428.7 610.8 433.2 600.0 436.0C589.2 438.8 585.0 440.3 575.0 442.5C565.0 444.7 552.5 447.0 540.0 449.0C527.5 451.0 515.0 452.9 500.0 454.6C485.0 456.3 466.7 457.9 450.0 459.0C433.3 460.1 416.7 461.0 400.0 461.3C383.3 461.6 366.7 461.3 350.0 460.6C333.3 459.9 316.7 458.6 300.0 457.0C283.3 455.4 266.7 453.5 250.0 451.3C233.3 449.1 215.0 446.4 200.0 443.6C185.0 440.8 172.5 437.6 160.0 434.3C147.5 431.0 135.0 427.5 125.0 424.0C115.0 420.5 106.2 417.0 100.0 413.5C93.8 410.0 90.9 405.8 88.0 403.0C85.1 400.2 84.7 399.9 82.5 397.0C80.3 394.1 76.8 389.2 75.0 385.5C73.2 381.8 72.5 378.9 71.8 375.0C71.0 371.1 70.7 365.8 70.5 362.0C70.3 358.2 70.3 356.2 70.6 352.0C70.9 347.8 71.5 342.3 72.2 337.0C72.9 331.7 73.9 325.3 74.7 320.0C75.5 314.7 75.3 319.2 77.0 305.0C78.7 290.8 82.3 259.2 85.0 235.0C87.7 210.8 91.3 173.8 93.0 160.0C94.7 146.2 94.4 156.7 95.0 152.5Z" stroke="#1b1918" stroke-width="1.5" fill="none" stroke-linejoin="round" stroke-linecap="round"/>
<path d="M301 116.6L469 116.6C474.5 116.6 478 119.8 476 124.5C473.5 130.5 470 137.5 466.5 142.5C463.3 146.6 458.5 147.5 452 147.5L322 147.5C314 147.5 310 146.3 306.5 141.8C302 135.5 297.5 129 295 124.3C293 119.6 296 116.6 301 116.6Z" stroke="#1b1918" stroke-width="1.5" fill="none" stroke-linejoin="round" stroke-linecap="round"/>
<path d="M78.8 152.0L78.0 160.0L70.3 232.0L63.0 300.0L61.2 320.0L59.5 350.0L58.7 382.5L66.2 383.8L67.3 350.0L68.7 320.0L70.5 300.0L77.8 232.0L86.2 160.0L87.0 153.8Z" stroke="#1b1918" stroke-width="1.45" fill="none" stroke-linejoin="miter"/>
<path d="M684.4 153.8L684.6 160.0L693.3 232.0L702.0 305.0L704.8 350.0L705.6 383.0L711.5 382.0L712.6 350.0L709.4 305.0L700.6 232.0L692.5 160.0L692.0 152.0Z" stroke="#1b1918" stroke-width="1.45" fill="none" stroke-linejoin="miter"/>
<rect x="68.6" y="250.6" width="5.6" height="18.8" stroke="#1b1918" stroke-width="1.2" fill="none" stroke-linejoin="miter" transform="rotate(5 71.4 260)"/>
<rect x="68.6" y="250.6" width="5.6" height="9" fill="#333" transform="rotate(5 71.4 260)"/>
<rect x="697.2" y="253.8" width="5.2" height="16.2" stroke="#1b1918" stroke-width="1.2" fill="none" stroke-linejoin="miter" transform="rotate(-5 700 262)"/>
<path d="M73.8 265 Q84 280 87.5 310" stroke="#1b1918" stroke-width="1.2" fill="none" stroke-linejoin="miter"/>
<path d="M92 311 Q120 298 147.5 324" stroke="#1b1918" stroke-width="1.2" fill="none" stroke-linejoin="miter"/>
<rect x="-4.5" y="-4.5" width="9" height="9" fill="#1b1918" transform="translate(87.5 315) rotate(25)"/>
<path d="M698.3 264 Q686 280 682.5 310" stroke="#1b1918" stroke-width="1.2" fill="none" stroke-linejoin="miter"/>
<path d="M678.5 311 Q650 298 622.5 325" stroke="#1b1918" stroke-width="1.2" fill="none" stroke-linejoin="miter"/>
<rect x="-4.5" y="-4.5" width="9" height="9" fill="#1b1918" transform="translate(682.5 315) rotate(-25)"/>
<g stroke="#8a8a8a" stroke-width="0.7" fill="none">
<path d="M258.0 101.2L258.0 91.2L301.2 92.5L302.0 113.0"/>
<path d="M251.0 100.6L257.5 101.3L257.0 111.5L250.5 110.8Z"/>
<path d="M318.0 113.0L318.0 94.4L385.0 94.6L440.0 93.0L446.3 93.2L447.5 110.6L467.0 110.0L467.0 93.0L500.0 91.0L540.0 88.0L600.0 81.0L650.0 73.5L672.0 70.5"/>
<path d="M672 70.5 Q686.5 68 688.3 78 L690 90 L697 165 L704.4 235 L712 305 L715 345 Q716 372 712 384 L708 396 L684 406" />
<path d="M560.0 100.3L679.7 93.8L684.4 138.8L677.0 140.0"/>
<path d="M71.2 103.0L71.6 160.0L66.3 235.0L58.5 320.0L53.5 360.0L54.3 384.0L60.0 396.0L75.0 403.0"/>
<path d="M216.9 109.5L216.9 112.5L277.0 116.2"/>
<path d="M297.5 128.8L473.5 128.8"/>
<path d="M164.4 92.5L172.0 93.4L172.0 104.6L164.4 103.8Z"/>
<path d="M175.0 93.8L183.0 94.7L183.0 106.0L175.0 105.0Z"/>
<path d="M187.5 95.3L195.0 96.2L195.0 107.8L187.5 107.0Z"/>
<path d="M150.0 82.7L166.0 85.0L166.0 92.6"/>
<path d="M150.0 78.5L177.0 82.0L177.0 94.0"/>
<path d="M183.0 106.0L183.0 108.5L187.5 109.0L187.5 107.0"/>
<path d="M183.0 108.5L180.5 108.3L180.5 150.0"/>
<path d="M507.5 452.0L497.0 113.0L540.0 110.6L592.3 105.0"/>
<path d="M592.3 113.0L592.3 153.5L547.0 153.5"/>
<path d="M76.5 103.0L73.0 165.0"/>
<path d="M81.5 103.5L78.8 152.0"/>
<path d="M97.0 123.3L90.2 123.0L90.4 105.0"/>
<path d="M95.0 141.0L88.3 140.0L89.3 123.0"/>
</g>
<g stroke="#63605e" stroke-width="0.8" fill="none">
<path d="M80.6 103.8 L80.6 77 Q80.8 70.8 87 70.6 L147.5 82.5"/>
<path d="M84.5 100 L84.5 92.5 Q85 88.5 89 88.8 L120 95 L127 97"/>
<path d="M100 82.5 Q100.5 76.5 105 76.8 L147 83.5"/>
<path d="M100 82.5 L100 88"/>
<path d="M121.5 86.8L128.5 88.0L127.3 96.5L120.3 95.2Z"/>
<path d="M91.0 97.5L138.5 105.0"/>
</g>
<rect x="358" y="85" width="31" height="30" fill="#fff"/>
<g stroke="#757575" stroke-width="0.7" fill="none">
<path d="M235.0 77.5L231.6 120.9"/>
<path d="M385.3 83.0L385.3 121.0"/>
<path d="M490.0 68.5L521.5 68.5"/>
<path d="M490.9 68.5L490.9 163.0"/>
<path d="M475.0 116.5L499.0 116.5"/>
<path d="M475.0 151.0L497.0 151.0"/>
<path d="M559.6 83.5L559.6 151.0"/>
<path d="M492.0 82.2L566.0 82.2"/>
<path d="M547.0 151.5L566.0 151.5"/>
<path d="M773.7 55.0L773.7 477.0"/>
<path d="M704.0 55.0L785.0 55.0"/>
<path d="M385.0 476.8L783.0 476.8"/>
<path d="M40.0 561.0L731.0 561.0"/>
<path d="M39.5 345.0L39.5 572.0"/>
<path d="M731.3 372.0L731.3 572.0"/>
<path d="M385.5 436.0L385.5 504.7L434.0 504.7"/>
<path d="M385.5 405.0L385.5 411.5"/>
<path d="M385.4 276.0L385.4 282.0"/>
<path d="M385.4 293.5L385.4 295.0"/>
<path d="M385.4 308.0L385.4 314.5"/>
<path d="M71.0 160.0L127.5 216.3L178.5 216.3"/>
<path d="M107.5 310.0L160.0 362.5L207.5 362.5"/>
<path d="M29.4 276.2L120.0 289.5"/>
<path d="M23.7 344.4L121.0 356.2"/>
<path d="M306.0 184.5L464.5 184.5"/>
<path d="M302.0 216.8L470.0 216.8"/>
<path d="M295.5 243.0L476.0 243.0"/>
<path d="M277.0 268.8L491.0 268.8"/>
<path d="M306.0 150.0L306.0 190.0"/>
<path d="M464.5 150.0L464.5 190.0"/>
<path d="M302.0 146.0L302.0 222.0"/>
<path d="M470.0 146.0L470.0 222.0"/>
<path d="M295.5 138.0L295.5 248.0"/>
<path d="M476.0 136.0L476.0 248.0"/>
<path d="M490.9 124.0L490.9 275.0"/>
</g>
<path d="M235.0 77.5 L238.1 87.8 L233.6 88.1Z" fill="#1b1918"/>
<path d="M231.6 120.9 L228.5 110.6 L233.0 110.3Z" fill="#1b1918"/>
<path d="M385.3 83.0 L387.6 93.5 L383.1 93.5Z" fill="#1b1918"/>
<path d="M385.3 116.8 L383.1 106.3 L387.6 106.3Z" fill="#1b1918"/>
<path d="M490.9 116.2 L488.6 105.7 L493.1 105.7Z" fill="#1b1918"/>
<path d="M490.9 150.0 L493.1 160.5 L488.6 160.5Z" fill="#1b1918"/>
<path d="M559.6 83.5 L561.9 94.0 L557.4 94.0Z" fill="#1b1918"/>
<path d="M559.6 151.0 L557.4 140.5 L561.9 140.5Z" fill="#1b1918"/>
<path d="M773.7 55.5 L776.0 66.0 L771.5 66.0Z" fill="#1b1918"/>
<path d="M773.7 476.5 L771.5 466.0 L776.0 466.0Z" fill="#1b1918"/>
<path d="M40.0 561.0 L50.5 558.8 L50.5 563.2Z" fill="#1b1918"/>
<path d="M731.0 561.0 L720.5 563.2 L720.5 558.8Z" fill="#1b1918"/>
<path d="M385.7 460.3 L383.4 449.8 L387.9 449.8Z" fill="#1b1918"/>
<path d="M385.7 477.8 L387.9 488.3 L383.4 488.3Z" fill="#1b1918"/>
<path d="M47.5 278.6 L36.8 279.4 L37.4 274.9Z" fill="#1b1918"/>
<path d="M68.3 281.7 L79.0 280.9 L78.4 285.4Z" fill="#1b1918"/>
<path d="M38.8 346.2 L28.1 347.2 L28.7 342.7Z" fill="#1b1918"/>
<path d="M73.7 350.5 L84.4 349.5 L83.8 354.0Z" fill="#1b1918"/>
<path d="M306.0 184.5 L316.5 182.2 L316.5 186.8Z" fill="#1b1918"/>
<path d="M464.5 184.5 L454.0 186.8 L454.0 182.2Z" fill="#1b1918"/>
<path d="M302.0 216.8 L312.5 214.6 L312.5 219.1Z" fill="#1b1918"/>
<path d="M470.0 216.8 L459.5 219.1 L459.5 214.6Z" fill="#1b1918"/>
<path d="M295.5 243.0 L306.0 240.8 L306.0 245.2Z" fill="#1b1918"/>
<path d="M476.0 243.0 L465.5 245.2 L465.5 240.8Z" fill="#1b1918"/>
<path d="M275.5 268.8 L286.0 266.6 L286.0 271.1Z" fill="#1b1918"/>
<path d="M490.9 268.8 L480.4 271.1 L480.4 266.6Z" fill="#1b1918"/>
<path d="M70.8 58 L70.8 104" stroke="#ddd" stroke-width="0.7"/>
<path d="M70.9 56.5 L72.7 66.0 L69.1 66.0Z" fill="#fff"/>
<g fill="#fff">
<rect x="354" y="163" width="62" height="20.5"/>
<rect x="354" y="195" width="62" height="21"/>
<rect x="354" y="221" width="62" height="21.3"/>
<rect x="354" y="247" width="62" height="21"/>
<rect x="392.5" y="320" width="173.5" height="90"/>
</g>
<text x="52.9" y="52.8" font-size="24.8" text-anchor="start">B1</text>
<text x="375.5" y="74.0" font-size="25" text-anchor="start">A1</text>
<text x="493.5" y="68.7" font-size="26" text-anchor="start">52</text>
<text x="386.2" y="183.5" font-size="26" text-anchor="middle">275</text>
<text x="383.3" y="215.0" font-size="26" text-anchor="middle">300</text>
<text x="383.3" y="242.5" font-size="26" text-anchor="middle">325</text>
<text x="383.3" y="266.8" font-size="26" text-anchor="middle">360</text>
<text x="131.5" y="215.3" font-size="26" text-anchor="start">370</text>
<text x="85.5" y="284.0" font-size="26" text-anchor="start">35</text>
<text x="87.0" y="351.3" font-size="26" text-anchor="start">57</text>
<text x="161.5" y="361.5" font-size="26" text-anchor="start">270</text>
<text x="398.6" y="344.4" font-size="20.2" text-anchor="start">E60 RW/H/X</text>
<text x="394.5" y="371.0" font-size="26" text-anchor="start" textLength="129" lengthAdjust="spacingAndGlyphs">(A1A2):742</text>
<text x="394.5" y="403.0" font-size="26" text-anchor="start" textLength="147.6" lengthAdjust="spacingAndGlyphs">(B1B2):1352</text>
<text x="395.9" y="503.1" font-size="26" text-anchor="start">36</text>
<text x="372.2" y="532.2" font-size="25" text-anchor="start" letter-spacing="1.2">A2</text>
<text x="384.0" y="556.8" font-size="26" text-anchor="middle">1282</text>
<text x="738.4" y="410.3" font-size="25" text-anchor="start" letter-spacing="1.2">B2</text>
<text x="0.0" y="0.0" font-size="26.5" text-anchor="start" transform="translate(229.8 111.0) rotate(-90)">63</text>
<text x="0.0" y="0.0" font-size="26.5" text-anchor="start" transform="translate(380.0 115.2) rotate(-90)">63</text>
<text x="0.0" y="0.0" font-size="26" text-anchor="start" transform="translate(557.2 142.3) rotate(-90)">126</text>
<text x="0.0" y="0.0" font-size="26.6" text-anchor="start" transform="translate(774.2 274.5) rotate(-90)">805</text>
<g transform="translate(53.6 116.5) rotate(-28.3)" opacity="0.68"><path d="M11.4 6.2L0.4 13.0L-11.1 6.8L-11.4 -6.2L-0.4 -13.0L11.1 -6.8Z" fill="none" stroke="url(#hg)" stroke-width="1.7" stroke-linejoin="round"/><path d="M-7 3.8L-3.6 -4.6L-0.4 3.8M1.4 3.8L1.4 -4.6L4.3 -4.6Q6.6 -4.4 6.6 -2.4Q6.6 -0.4 4.3 -0.3L2.6 -0.3M3.8 -0.3L6.9 3.8" fill="none" stroke="#4f86b8" stroke-width="1.25" stroke-linejoin="round" stroke-linecap="round"/><text x="14.6" y="4.6" font-size="13.6" style="fill:#2a91da" textLength="99" lengthAdjust="spacingAndGlyphs">AUTOREVERS-PARTS</text></g>
<g transform="translate(314.0 116.8) rotate(-28.3)" opacity="0.68"><path d="M11.4 6.2L0.4 13.0L-11.1 6.8L-11.4 -6.2L-0.4 -13.0L11.1 -6.8Z" fill="none" stroke="url(#hg)" stroke-width="1.7" stroke-linejoin="round"/><path d="M-7 3.8L-3.6 -4.6L-0.4 3.8M1.4 3.8L1.4 -4.6L4.3 -4.6Q6.6 -4.4 6.6 -2.4Q6.6 -0.4 4.3 -0.3L2.6 -0.3M3.8 -0.3L6.9 3.8" fill="none" stroke="#4f86b8" stroke-width="1.25" stroke-linejoin="round" stroke-linecap="round"/><text x="14.6" y="4.6" font-size="13.6" style="fill:#2a91da" textLength="99" lengthAdjust="spacingAndGlyphs">AUTOREVERS-PARTS</text></g>
<g transform="translate(574.0 116.3) rotate(-28.3)" opacity="0.68"><path d="M11.4 6.2L0.4 13.0L-11.1 6.8L-11.4 -6.2L-0.4 -13.0L11.1 -6.8Z" fill="none" stroke="url(#hg)" stroke-width="1.7" stroke-linejoin="round"/><path d="M-7 3.8L-3.6 -4.6L-0.4 3.8M1.4 3.8L1.4 -4.6L4.3 -4.6Q6.6 -4.4 6.6 -2.4Q6.6 -0.4 4.3 -0.3L2.6 -0.3M3.8 -0.3L6.9 3.8" fill="none" stroke="#4f86b8" stroke-width="1.25" stroke-linejoin="round" stroke-linecap="round"/><text x="14.6" y="4.6" font-size="13.6" style="fill:#2a91da" textLength="99" lengthAdjust="spacingAndGlyphs">AUTOREVERS-PARTS</text></g>
<g transform="translate(57.0 376.7) rotate(-28.3)" opacity="0.68"><path d="M11.4 6.2L0.4 13.0L-11.1 6.8L-11.4 -6.2L-0.4 -13.0L11.1 -6.8Z" fill="none" stroke="url(#hg)" stroke-width="1.7" stroke-linejoin="round"/><path d="M-7 3.8L-3.6 -4.6L-0.4 3.8M1.4 3.8L1.4 -4.6L4.3 -4.6Q6.6 -4.4 6.6 -2.4Q6.6 -0.4 4.3 -0.3L2.6 -0.3M3.8 -0.3L6.9 3.8" fill="none" stroke="#4f86b8" stroke-width="1.25" stroke-linejoin="round" stroke-linecap="round"/><text x="14.6" y="4.6" font-size="13.6" style="fill:#2a91da" textLength="99" lengthAdjust="spacingAndGlyphs">AUTOREVERS-PARTS</text></g>
<g transform="translate(318.7 377.0) rotate(-28.3)" opacity="0.68"><path d="M11.4 6.2L0.4 13.0L-11.1 6.8L-11.4 -6.2L-0.4 -13.0L11.1 -6.8Z" fill="none" stroke="url(#hg)" stroke-width="1.7" stroke-linejoin="round"/><path d="M-7 3.8L-3.6 -4.6L-0.4 3.8M1.4 3.8L1.4 -4.6L4.3 -4.6Q6.6 -4.4 6.6 -2.4Q6.6 -0.4 4.3 -0.3L2.6 -0.3M3.8 -0.3L6.9 3.8" fill="none" stroke="#4f86b8" stroke-width="1.25" stroke-linejoin="round" stroke-linecap="round"/><text x="14.6" y="4.6" font-size="13.6" style="fill:#2a91da" textLength="99" lengthAdjust="spacingAndGlyphs">AUTOREVERS-PARTS</text></g>
<g transform="translate(578.7 376.5) rotate(-28.3)" opacity="0.68"><path d="M11.4 6.2L0.4 13.0L-11.1 6.8L-11.4 -6.2L-0.4 -13.0L11.1 -6.8Z" fill="none" stroke="url(#hg)" stroke-width="1.7" stroke-linejoin="round"/><path d="M-7 3.8L-3.6 -4.6L-0.4 3.8M1.4 3.8L1.4 -4.6L4.3 -4.6Q6.6 -4.4 6.6 -2.4Q6.6 -0.4 4.3 -0.3L2.6 -0.3M3.8 -0.3L6.9 3.8" fill="none" stroke="#4f86b8" stroke-width="1.25" stroke-linejoin="round" stroke-linecap="round"/><text x="14.6" y="4.6" font-size="13.6" style="fill:#2a91da" textLength="99" lengthAdjust="spacingAndGlyphs">AUTOREVERS-PARTS</text></g>
<g transform="translate(55.6 634.7) rotate(-28.3)" opacity="0.68"><path d="M11.4 6.2L0.4 13.0L-11.1 6.8L-11.4 -6.2L-0.4 -13.0L11.1 -6.8Z" fill="none" stroke="url(#hg)" stroke-width="1.7" stroke-linejoin="round"/><path d="M-7 3.8L-3.6 -4.6L-0.4 3.8M1.4 3.8L1.4 -4.6L4.3 -4.6Q6.6 -4.4 6.6 -2.4Q6.6 -0.4 4.3 -0.3L2.6 -0.3M3.8 -0.3L6.9 3.8" fill="none" stroke="#4f86b8" stroke-width="1.25" stroke-linejoin="round" stroke-linecap="round"/><text x="14.6" y="4.6" font-size="13.6" style="fill:#2a91da" textLength="99" lengthAdjust="spacingAndGlyphs">AUTOREVERS-PARTS</text></g>
<g transform="translate(315.6 634.7) rotate(-28.3)" opacity="0.68"><path d="M11.4 6.2L0.4 13.0L-11.1 6.8L-11.4 -6.2L-0.4 -13.0L11.1 -6.8Z" fill="none" stroke="url(#hg)" stroke-width="1.7" stroke-linejoin="round"/><path d="M-7 3.8L-3.6 -4.6L-0.4 3.8M1.4 3.8L1.4 -4.6L4.3 -4.6Q6.6 -4.4 6.6 -2.4Q6.6 -0.4 4.3 -0.3L2.6 -0.3M3.8 -0.3L6.9 3.8" fill="none" stroke="#4f86b8" stroke-width="1.25" stroke-linejoin="round" stroke-linecap="round"/><text x="14.6" y="4.6" font-size="13.6" style="fill:#2a91da" textLength="99" lengthAdjust="spacingAndGlyphs">AUTOREVERS-PARTS</text></g>
<g transform="translate(575.6 634.7) rotate(-28.3)" opacity="0.68"><path d="M11.4 6.2L0.4 13.0L-11.1 6.8L-11.4 -6.2L-0.4 -13.0L11.1 -6.8Z" fill="none" stroke="url(#hg)" stroke-width="1.7" stroke-linejoin="round"/><path d="M-7 3.8L-3.6 -4.6L-0.4 3.8M1.4 3.8L1.4 -4.6L4.3 -4.6Q6.6 -4.4 6.6 -2.4Q6.6 -0.4 4.3 -0.3L2.6 -0.3M3.8 -0.3L6.9 3.8" fill="none" stroke="#4f86b8" stroke-width="1.25" stroke-linejoin="round" stroke-linecap="round"/><text x="14.6" y="4.6" font-size="13.6" style="fill:#2a91da" textLength="99" lengthAdjust="spacingAndGlyphs">AUTOREVERS-PARTS</text></g>
</svg></body></html>
